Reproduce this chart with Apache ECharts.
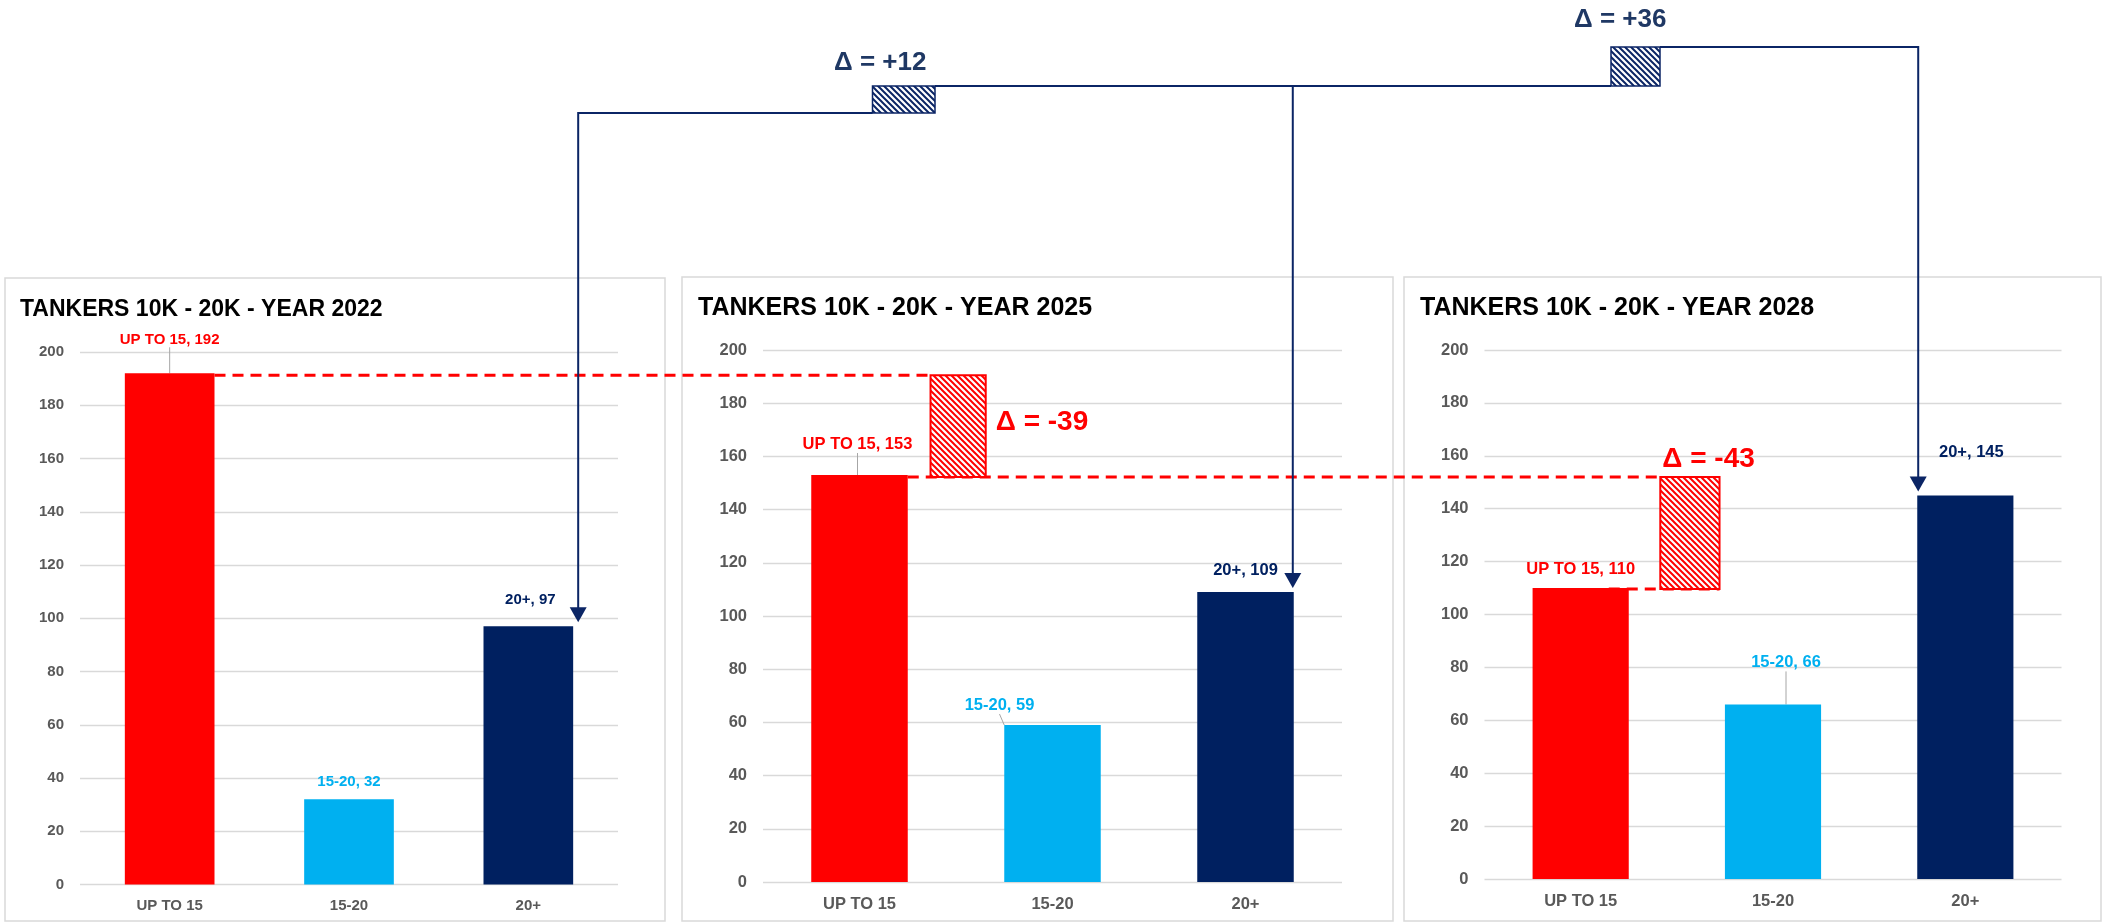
<!DOCTYPE html>
<html>
<head>
<meta charset="utf-8">
<style>
  html, body { margin: 0; padding: 0; background: #fff; }
  #chart { width: 2103px; height: 922px; }
</style>
<script src="https://cdn.jsdelivr.net/npm/echarts@6/dist/echarts.min.js"></script>
</head>
<body>
<div id="chart"></div>
<script>
// data
const years = ['2022', '2025', '2028'];
const categories = ['UP TO 15', '15-20', '20+'];
const upTo15 = [192, 153, 110];
const from15to20 = [32, 59, 66];
const over20 = [97, 109, 145];
const yMin = 0, yMax = 200, yStep = 20;

const barColors = ['#ff0000', '#00b0f0', '#002060'];
const navy = '#0b2565';
const font = '"Liberation Sans", Arial, sans-serif';

// layout of the three panels (px)
const panels = [
    { box: [5, 278, 660, 643], grid: { left: 80, top: 352, width: 538, height: 532.5 }, titleTop: 298, titleLeft: 20, k: 1 },
    { box: [682, 277, 711, 644], grid: { left: 763, top: 350, width: 579, height: 532 }, titleTop: 296, titleLeft: 698, k: 1.1 },
    { box: [1404, 277, 697, 644], grid: { left: 1484.5, top: 350, width: 577, height: 529 }, titleTop: 296, titleLeft: 1420, k: 1.1 }
];
// label nudges [dx, dy] and whether a leader line is drawn
const labelShift = [
    [[0, -16, true], [0, 0, false], [2, -9, false]],
    [[-2, -12, true], [-53, -1, true], [0, -3, false]],
    [[0, 0, false], [13, -23, true], [6, -25, false]]
];

const myChart = echarts.init(document.getElementById('chart'));

const series = [], grids = [], xAxes = [], yAxes = [], titles = [];
panels.forEach(function (p, i) {
    const vals = [upTo15[i], from15to20[i], over20[i]];
    grids.push(Object.assign({ containLabel: false }, p.grid));
    titles.push({
        text: 'TANKERS 10K - 20K - YEAR ' + years[i],
        left: p.titleLeft, top: p.titleTop, padding: 0,
        textStyle: { color: '#000', fontSize: Math.round(23 * p.k * 0.98), fontWeight: 'bold', fontFamily: font }
    });
    xAxes.push({
        type: 'category', gridIndex: i, data: categories,
        axisLine: { show: false }, axisTick: { show: false },
        axisLabel: { color: '#595959', fontWeight: 'bold', fontSize: 15 * p.k, fontFamily: font, margin: 14 }
    });
    yAxes.push({
        type: 'value', gridIndex: i, min: yMin, max: yMax, interval: yStep,
        axisLine: { show: false }, axisTick: { show: false },
        axisLabel: { color: '#595959', fontWeight: 'bold', fontSize: 15 * p.k, fontFamily: font, margin: 16 },
        splitLine: { lineStyle: { color: '#d9d9d9', width: 1.3 } }
    });
    series.push({
        type: 'bar', xAxisIndex: i, yAxisIndex: i, barWidth: '50%',
        animation: false,
        label: {
            show: true, position: 'top', distance: 10,
            fontWeight: 'bold', fontSize: 15 * p.k, fontFamily: font,
            formatter: function (prm) { return prm.name + ', ' + prm.value; }
        },
        labelLayout: function (prm) {
            const s = labelShift[i][prm.dataIndex];
            return { dx: s[0], dy: s[1] };
        },
        labelLine: { show: false, lineStyle: { color: '#a6a6a6', width: 1 } },
        data: vals.map(function (v, j) {
            return {
                value: v,
                itemStyle: { color: barColors[j] },
                label: { color: barColors[j] },
                labelLine: { show: labelShift[i][j][2], lineStyle: { color: '#a6a6a6', width: 1 } }
            };
        })
    });
});

myChart.setOption({
    animation: false,
    title: titles,
    grid: grids,
    xAxis: xAxes,
    yAxis: yAxes,
    series: series
});

// hatch pattern tile
function hatch(color, s, w) {
    const c = document.createElement('canvas');
    c.width = s; c.height = s;
    const g = c.getContext('2d');
    g.fillStyle = '#fff';
    g.fillRect(0, 0, s, s);
    g.strokeStyle = color;
    g.lineWidth = w;
    g.beginPath();
    [-s, 0, s].forEach(function (k) {
        g.moveTo(-s, -s + k);
        g.lineTo(2 * s, 2 * s + k);
    });
    g.stroke();
    return { image: c, repeat: 'repeat' };
}

function px(i, j, v) { return myChart.convertToPixel({ seriesIndex: i }, [j, v]); }
function catW(i) { return px(i, 1, 0)[0] - px(i, 0, 0)[0]; }

const graphic = [];

// panel frames
panels.forEach(function (p) {
    graphic.push({
        type: 'rect', z: -10, silent: true,
        shape: { x: p.box[0], y: p.box[1], width: p.box[2], height: p.box[3] },
        style: { fill: null, stroke: '#d9d9d9', lineWidth: 1.5 }
    });
});

// red dashed comparison of the UP TO 15 bars
const dash = { stroke: '#ff0000', lineWidth: 3, lineDash: [11, 7] };
const redFill = hatch('#ff0000', 6, 2);
const yL1 = px(0, 0, upTo15[0])[1] + 2;
const yL2 = px(1, 0, upTo15[1])[1] + 2;
const yL3 = px(2, 0, upTo15[2])[1] + 1;
const box1 = [px(1, 0, 0)[0] + 0.368 * catW(1), px(1, 0, 0)[0] + 0.654 * catW(1)];
const box2 = [px(2, 0, 0)[0] + 0.414 * catW(2), px(2, 0, 0)[0] + 0.722 * catW(2)];

graphic.push(
    { type: 'line', z: 20, shape: { x1: px(0, 0, 0)[0] + catW(0) / 4, y1: yL1, x2: box1[0], y2: yL1 }, style: dash },
    { type: 'line', z: 20, shape: { x1: px(1, 0, 0)[0] + catW(1) / 4, y1: yL2, x2: box2[0], y2: yL2 }, style: dash },
    { type: 'line', z: 20, shape: { x1: px(2, 0, 0)[0] + catW(2) / 4 - 20, y1: yL3, x2: box2[1], y2: yL3 }, style: dash },
    {
        type: 'rect', z: 21,
        shape: { x: box1[0], y: yL1, width: box1[1] - box1[0], height: yL2 - yL1 },
        style: { fill: redFill, stroke: '#ff0000', lineWidth: 2 }
    },
    {
        type: 'rect', z: 21,
        shape: { x: box2[0], y: yL2, width: box2[1] - box2[0], height: yL3 - yL2 },
        style: { fill: redFill, stroke: '#ff0000', lineWidth: 2 }
    },
    {
        type: 'text', z: 21,
        style: {
            text: 'Δ = ' + (upTo15[1] - upTo15[0]), x: box1[1] + 10, y: (yL1 + yL2) / 2 - 4,
            fill: '#ff0000', font: 'bold 28px ' + font, verticalAlign: 'middle'
        }
    },
    {
        type: 'text', z: 21,
        style: {
            text: 'Δ = ' + (upTo15[2] - upTo15[1]), x: box2[0] + 2, y: yL2 - 18,
            fill: '#ff0000', font: 'bold 28px ' + font, verticalAlign: 'middle'
        }
    }
);

// navy connectors for the 20+ bars
const navyFill = hatch(navy, 6, 2);
const arrowOff = [0.278, 0.245, -0.245];
const ax = [0, 1, 2].map(function (i) { return px(i, 2, 0)[0] + arrowOff[i] * catW(i); });
const tip = [0, 1, 2].map(function (i) { return px(i, 2, over20[i])[1] - 4; });
const lvl = [113, 86, 47];
const stepBox = [[872.5, 935], [1611, 1660]];
const navyLine = { stroke: navy, lineWidth: 2, fill: null };

graphic.push(
    { type: 'polyline', z: 20, shape: { points: [[ax[0], tip[0] - 14], [ax[0], lvl[0]], [stepBox[0][0], lvl[0]]] }, style: navyLine },
    { type: 'polyline', z: 20, shape: { points: [[stepBox[0][1], lvl[1]], [stepBox[1][0], lvl[1]]] }, style: navyLine },
    { type: 'polyline', z: 20, shape: { points: [[ax[1], lvl[1]], [ax[1], tip[1] - 14]] }, style: navyLine },
    { type: 'polyline', z: 20, shape: { points: [[stepBox[1][1], lvl[2]], [ax[2], lvl[2]], [ax[2], tip[2] - 14]] }, style: navyLine },
    {
        type: 'rect', z: 21,
        shape: { x: stepBox[0][0], y: lvl[1], width: stepBox[0][1] - stepBox[0][0], height: lvl[0] - lvl[1] },
        style: { fill: navyFill, stroke: navy, lineWidth: 1.5 }
    },
    {
        type: 'rect', z: 21,
        shape: { x: stepBox[1][0], y: lvl[2], width: stepBox[1][1] - stepBox[1][0], height: lvl[1] - lvl[2] },
        style: { fill: navyFill, stroke: navy, lineWidth: 1.5 }
    },
    {
        type: 'text', z: 21,
        style: {
            text: 'Δ = +' + (over20[1] - over20[0]), x: 834, y: 63,
            fill: '#1f3864', font: 'bold 26px ' + font, verticalAlign: 'middle'
        }
    },
    {
        type: 'text', z: 21,
        style: {
            text: 'Δ = +' + (over20[2] - over20[1]), x: 1574, y: 20,
            fill: '#1f3864', font: 'bold 26px ' + font, verticalAlign: 'middle'
        }
    }
);
ax.forEach(function (x, i) {
    graphic.push({
        type: 'polygon', z: 22,
        shape: { points: [[x - 8.5, tip[i] - 15], [x + 8.5, tip[i] - 15], [x, tip[i]]] },
        style: { fill: navy }
    });
});

myChart.setOption({ graphic: graphic });
</script>
</body>
</html>
